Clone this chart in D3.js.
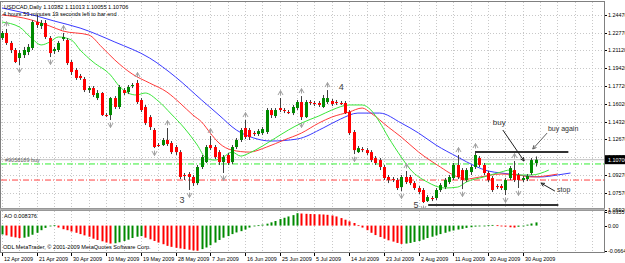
<!DOCTYPE html>
<html>
<head>
<meta charset="utf-8">
<script src="https://cdn.jsdelivr.net/npm/d3@7"></script>
<style>
  body { margin: 0; background: #ffffff; }
  svg text { font-family: "Liberation Sans", Arial, sans-serif; }
</style>
</head>
<body>
<div id="chart"></div>
<script>
// ---- data (USDCAD daily, one entry per bar) ----
const opens = [1.2228,1.2276,1.2181,1.2114,1.2038,1.2066,1.2095,1.2133,1.2380,1.2342,
  1.2371,1.2228,1.2104,1.2114,1.2219,1.2209,1.2000,1.1924,1.1867,1.1838,
  1.1733,1.1752,1.1657,1.1705,1.1495,1.1495,1.1657,1.1572,1.1733,1.1714,
  1.1771,1.1800,1.1638,1.1572,1.1476,1.1353,1.1210,1.1210,1.1258,1.1229,
  1.1191,1.1143,1.0925,1.0934,1.0906,1.0848,1.1001,1.1048,1.1210,1.1191,
  1.1143,1.1048,1.1115,1.1048,1.1191,1.1258,1.1372,1.1353,1.1324,1.1315,
  1.1324,1.1334,1.1543,1.1486,1.1562,1.1543,1.1524,1.1514,1.1562,1.1619,
  1.1476,1.1619,1.1610,1.1610,1.1572,1.1619,1.1629,1.1619,1.1610,1.1610,
  1.1524,1.1334,1.1143,1.1172,1.1162,1.1143,1.1086,1.1067,1.1001,1.0906,
  1.0886,1.0877,1.0810,1.0906,1.0906,1.0848,1.0801,1.0782,1.0677,1.0706,
  1.0706,1.0782,1.0810,1.0858,1.0896,1.1020,1.0972,1.0877,1.0953,1.1001,
  1.1086,1.1020,1.0944,1.0896,1.0820,1.0820,1.0782,1.0896,1.0972,1.0925,
  1.0877,1.0886,1.0944,1.10382];
const highs = [1.2295,1.2314,1.2200,1.2133,1.2114,1.2143,1.2171,1.2399,1.2447,1.2399,
  1.2399,1.2247,1.2143,1.2200,1.2276,1.2228,1.2019,1.1943,1.1886,1.1857,
  1.1771,1.1771,1.1733,1.1714,1.1514,1.1667,1.1676,1.1781,1.1752,1.1781,
  1.1800,1.1829,1.1657,1.1591,1.1495,1.1372,1.1229,1.1277,1.1372,1.1248,
  1.1210,1.1162,1.0944,1.0953,1.0925,1.1020,1.1115,1.1210,1.1296,1.1210,
  1.1162,1.1115,1.1134,1.1210,1.1277,1.1372,1.1448,1.1372,1.1343,1.1362,
  1.1381,1.1562,1.1562,1.1562,1.1657,1.1562,1.1543,1.1591,1.1638,1.1676,
  1.1638,1.1638,1.1629,1.1629,1.1686,1.1733,1.1648,1.1638,1.1629,1.1629,
  1.1543,1.1353,1.1201,1.1191,1.1181,1.1162,1.1105,1.1086,1.1020,1.0925,
  1.0906,1.0896,1.0925,1.0963,1.0925,1.0867,1.0820,1.0801,1.0734,1.0725,
  1.0801,1.0848,1.0896,1.0925,1.1039,1.1115,1.0991,1.0991,1.1020,1.1153,
  1.1105,1.1039,1.0963,1.0915,1.0839,1.0839,1.0896,1.1010,1.1058,1.0944,
  1.0915,1.0934,1.1086,1.11013];
const lows = [1.2209,1.2162,1.2085,1.1990,1.1971,1.2038,1.2066,1.2114,1.2323,1.2314,
  1.2219,1.2047,1.2076,1.2095,1.2200,1.1971,1.1876,1.1829,1.1829,1.1714,
  1.1705,1.1667,1.1638,1.1486,1.1476,1.1448,1.1553,1.1553,1.1686,1.1695,
  1.1752,1.1600,1.1524,1.1400,1.1353,1.1181,1.1191,1.1201,1.1201,1.1124,
  1.1115,1.0886,1.0877,1.0782,1.0820,1.0829,1.0982,1.1039,1.1162,1.1077,
  1.1020,1.0944,1.1020,1.1029,1.1172,1.1239,1.1267,1.1258,1.1296,1.1296,
  1.1305,1.1315,1.1467,1.1467,1.1524,1.1514,1.1505,1.1495,1.1543,1.1448,
  1.1467,1.1591,1.1581,1.1572,1.1562,1.1600,1.1581,1.1591,1.1591,1.1505,
  1.1305,1.1124,1.1134,1.1143,1.1115,1.1048,1.1020,1.0972,1.0877,1.0848,
  1.0858,1.0782,1.0772,1.0839,1.0829,1.0782,1.0744,1.0658,1.0668,1.0677,
  1.0687,1.0763,1.0791,1.0839,1.0877,1.0886,1.0791,1.0858,1.0925,1.0982,
  1.1001,1.0925,1.0858,1.0763,1.0791,1.0782,1.0734,1.0877,1.0858,1.0801,
  1.0858,1.0867,1.0925,1.10055];
const closes = [1.2276,1.2181,1.2114,1.2000,1.2085,1.2114,1.2143,1.2380,1.2352,1.2371,
  1.2238,1.2085,1.2123,1.2181,1.2238,1.1990,1.1905,1.1848,1.1848,1.1733,
  1.1752,1.1686,1.1705,1.1495,1.1486,1.1657,1.1572,1.1762,1.1705,1.1762,
  1.1781,1.1619,1.1543,1.1419,1.1381,1.1191,1.1201,1.1258,1.1220,1.1143,
  1.1143,1.0906,1.0915,1.0906,1.0848,1.1001,1.1096,1.1191,1.1181,1.1096,
  1.1048,1.1096,1.1039,1.1191,1.1258,1.1353,1.1286,1.1286,1.1315,1.1343,
  1.1362,1.1543,1.1495,1.1543,1.1543,1.1534,1.1514,1.1572,1.1619,1.1476,
  1.1619,1.1610,1.1600,1.1591,1.1657,1.1657,1.1600,1.1610,1.1600,1.1514,
  1.1324,1.1162,1.1181,1.1162,1.1134,1.1067,1.1039,1.1001,1.0896,1.0877,
  1.0877,1.0801,1.0906,1.0858,1.0848,1.0801,1.0763,1.0668,1.0715,1.0696,
  1.0782,1.0829,1.0877,1.0906,1.1020,1.0906,1.0877,1.0972,1.1001,1.1115,
  1.1020,1.0944,1.0877,1.0782,1.0810,1.0801,1.0877,1.0991,1.0877,1.0877,
  1.0896,1.0915,1.1067,1.10706];

// Awesome Oscillator, one value per bar
const aoValues = [-0.0231,-0.0256,-0.0291,-0.0308,-0.0325,-0.0316,-0.0291,-0.0239,-0.0188,-0.0120,
  -0.0060,-0.0017,0.0009,-0.0051,-0.0094,-0.0120,-0.0154,-0.0188,-0.0222,-0.0256,
  -0.0291,-0.0342,-0.0376,-0.0410,-0.0444,-0.0470,-0.0462,-0.0436,-0.0402,-0.0368,
  -0.0325,-0.0291,-0.0274,-0.0316,-0.0359,-0.0402,-0.0444,-0.0487,-0.0530,-0.0556,
  -0.0581,-0.0598,-0.0615,-0.0632,-0.0650,-0.0658,-0.0615,-0.0573,-0.0513,-0.0444,
  -0.0376,-0.0316,-0.0274,-0.0222,-0.0179,-0.0145,-0.0103,-0.0051,-0.0017,0.0009,
  0.0026,0.0051,0.0085,0.0120,0.0171,0.0205,0.0239,0.0274,0.0325,0.0316,
  0.0308,0.0303,0.0299,0.0295,0.0291,0.0282,0.0265,0.0239,0.0197,0.0154,
  0.0111,0.0068,0.0009,-0.0051,-0.0120,-0.0188,-0.0248,-0.0299,-0.0342,-0.0385,
  -0.0419,-0.0453,-0.0479,-0.0470,-0.0453,-0.0427,-0.0402,-0.0368,-0.0325,-0.0291,
  -0.0256,-0.0222,-0.0188,-0.0154,-0.0128,-0.0103,-0.0085,-0.0060,-0.0043,-0.0026,
  -0.0017,-0.0009,0.0009,0.0017,0.0009,-0.0009,-0.0026,-0.0043,-0.0051,-0.0030,
  -0.0005,0.0025,0.0055,0.008376];

// Alligator lines, sampled at bar positions (they run past the last bar)
const jawBars = [0,8,12,18,26,34,40,46,50,54,58,62,68,74,78,82,87,92,96,100,105,109,112,115,119,124,128,131];
const jawValues = [1.2514,1.2437,1.2390,1.2323,1.2190,1.2038,1.1857,1.1638,1.1495,1.1353,1.1277,1.1248,1.1267,1.1372,
  1.1457,1.1514,1.1514,1.1419,1.1324,1.1210,1.1096,1.1010,1.0963,1.0944,1.0925,1.0906,1.0925,1.0944];
const teethBars = [0,5,11,14,20,23,26,30,34,38,41,44,46,48,50,53,57,61,65,69,73,76,80,83,85,89,92,96,101,104,107,110,115,119,122,128];
const teethValues = [1.2447,1.2418,1.2342,1.2295,1.2257,1.2142,1.2019,1.1886,1.1800,1.1714,1.1610,1.1495,1.1429,1.1324,
  1.1229,1.1162,1.1143,1.1191,1.1258,1.1324,1.1419,1.1476,1.1524,1.1562,1.1514,1.1381,1.1286,1.1143,1.1001,1.0925,
  1.0886,1.0905,1.0934,1.0925,1.0906,1.0934];
const lipsBars = [0,4,7,9,11,13,16,18,21,25,27,29,31,33,36,39,42,45,47,49,51,53,55,57,60,63,66,69,73,76,80,83,85,87,89,
  92,94,98,102,105,107,111,115,117,119,122,126];
const lipsValues = [1.2380,1.2333,1.2219,1.2162,1.2190,1.2238,1.2209,1.2114,1.2000,1.1876,1.1771,1.1705,1.1686,1.1705,
  1.1629,1.1505,1.1372,1.1210,1.1086,1.1067,1.1096,1.1143,1.1105,1.1134,1.1200,1.1277,1.1353,1.1419,1.1486,1.1543,
  1.1591,1.1591,1.1543,1.1429,1.1286,1.1096,1.0982,1.0858,1.0801,1.0810,1.0858,1.0906,1.0953,1.0972,1.0925,1.0925,1.0972];

// Fractals (bar indices)
const upFractals = [1,14,31,38,48,56,64,69,75,93,105,109,118];
const downFractals = [4,11,25,35,43,51,69,81,92,97,106,116,119];

// Axis ticks
const priceTicks = [1.24470,1.22770,1.21120,1.19420,1.17720,1.16020,1.14320,1.12670,1.10970,1.09270,1.07570,1.05920];
const aoTicks = [0.035573, 0.0, -0.066446];
const aoTickLabels = ["0.035573", "0.00", "-0.066446"];
const dateTickBars = [0,8,16,24,32,40,48,56,64,72,80,88,96,104,112,120];
const dateTickLabels = ["12 Apr 2009","21 Apr 2009","30 Apr 2009","10 May 2009","19 May 2009","28 May 2009",
  "7 Jun 2009","16 Jun 2009","25 Jun 2009","5 Jul 2009","14 Jul 2009","23 Jul 2009","2 Aug 2009",
  "11 Aug 2009","20 Aug 2009","30 Aug 2009"];

// Trade lines and hand-drawn annotations
const orderPrice = 1.1030;
const stopPrice = 1.0877;
const trendStart = [109, 98.2];
const trendEnd = [130.5, 128.2];
const trendPrice = [1.1143, 1.0639];
const waveLabels = ["3", "4", "5"];
const waveBars = [41.5, 78.2, 95.4];
const wavePrices = [1.0658, 1.1733, 1.0610];

// ---- layout ----
const width = 625, height = 263;
const mainTop = 2, mainBottom = 208, aoTop = 211, aoBottom = 252, plotRight = 604;

const svg = d3.select("#chart")
  .append("svg")
  .attr("width", width)
  .attr("height", height)
  .style("display", "block");

svg.append("rect").attr("width", width).attr("height", height).attr("fill", "#ffffff");

// scales
const x = d3.scaleLinear().domain([0, 123]).range([2, 535.8]);
const y = d3.scaleLinear().domain([1.0592, 1.2447]).range([210, 15]);
const yAo = d3.scaleLinear().domain([-0.066446, 0.035573]).range([aoBottom - 1, aoTop + 1]);

const gridBars = d3.range(0, 140, 4);

// clip regions
const defs = svg.append("defs");
defs.append("clipPath").attr("id", "clipMain")
  .append("rect").attr("x", 1).attr("y", mainTop).attr("width", plotRight - 1).attr("height", mainBottom - mainTop);
defs.append("clipPath").attr("id", "clipAo")
  .append("rect").attr("x", 1).attr("y", aoTop).attr("width", plotRight - 1).attr("height", aoBottom - aoTop);

/*****************/
/* Main panel    */
/*****************/
const main = svg.append("g").attr("clip-path", "url(#clipMain)");

// grid
main.selectAll(".vgrid").data(gridBars).join("line")
  .attr("x1", d => Math.round(x(d)) + 0.5).attr("x2", d => Math.round(x(d)) + 0.5)
  .attr("y1", mainTop).attr("y2", mainBottom)
  .attr("stroke", "#c8c8c8").attr("stroke-width", 1).attr("stroke-dasharray", "1,2");
main.selectAll(".hgrid").data(priceTicks).join("line")
  .attr("x1", 1).attr("x2", plotRight)
  .attr("y1", d => Math.round(y(d)) + 0.5).attr("y2", d => Math.round(y(d)) + 0.5)
  .attr("stroke", "#c8c8c8").attr("stroke-width", 1).attr("stroke-dasharray", "1,2");

// order / stop / bid lines
main.append("line")
  .attr("x1", 1).attr("x2", plotRight)
  .attr("y1", y(closes[closes.length - 1])).attr("y2", y(closes[closes.length - 1]))
  .attr("stroke", "#c0c0c0").attr("stroke-width", 1);
main.append("line")
  .attr("x1", 1).attr("x2", plotRight)
  .attr("y1", y(orderPrice)).attr("y2", y(orderPrice))
  .attr("stroke", "#33ee33").attr("stroke-width", 1).attr("stroke-dasharray", "6,2,1,2");
main.append("line")
  .attr("x1", 1).attr("x2", plotRight)
  .attr("y1", y(stopPrice)).attr("y2", y(stopPrice))
  .attr("stroke", "#ff4040").attr("stroke-width", 1).attr("stroke-dasharray", "6,2,1,2");
main.append("text")
  .attr("x", 5).attr("y", y(orderPrice) - 2)
  .attr("font-size", 5.5).attr("fill", "#606060")
  .text("#9058189 buy");

// alligator
const lineGen = (bars, vals) => d3.line().curve(d3.curveMonotoneX)(bars.map((b, i) => [x(b), y(vals[i])]));
main.append("path").attr("d", lineGen(jawBars, jawValues)).attr("fill", "none").attr("stroke", "#3a3aff").attr("stroke-width", 1);
main.append("path").attr("d", lineGen(teethBars, teethValues)).attr("fill", "none").attr("stroke", "#ff3a3a").attr("stroke-width", 1);
main.append("path").attr("d", lineGen(lipsBars, lipsValues)).attr("fill", "none").attr("stroke", "#3ae63a").attr("stroke-width", 1);

// candles
const bars = d3.range(opens.length);
main.selectAll(".wick").data(bars).join("line")
  .attr("x1", i => Math.round(x(i)) + 0.5).attr("x2", i => Math.round(x(i)) + 0.5)
  .attr("y1", i => y(highs[i])).attr("y2", i => y(lows[i]))
  .attr("stroke", "#404040").attr("stroke-width", 1);
main.selectAll(".body").data(bars).join("rect")
  .attr("x", i => Math.round(x(i)) - 1)
  .attr("y", i => y(Math.max(opens[i], closes[i])))
  .attr("width", 3)
  .attr("height", i => Math.max(1, Math.abs(y(opens[i]) - y(closes[i]))))
  .attr("fill", i => closes[i] >= opens[i] ? "#008a00" : "#ff0000");

// fractals
main.selectAll(".fup").data(upFractals).join("path")
  .attr("transform", i => `translate(${Math.round(x(i)) + 0.5},${y(highs[i]) - 5})`)
  .attr("d", "M-2.5,2 L0,-2.5 L2.5,2 M0,-2.5 L0,2.5")
  .attr("fill", "none").attr("stroke", "#a0a0a0").attr("stroke-width", 1);
main.selectAll(".fdn").data(downFractals).join("path")
  .attr("transform", i => `translate(${Math.round(x(i)) + 0.5},${y(lows[i]) + 5})`)
  .attr("d", "M-2.5,-2 L0,2.5 L2.5,-2 M0,2.5 L0,-2.5")
  .attr("fill", "none").attr("stroke", "#a0a0a0").attr("stroke-width", 1);

// hand-drawn trend lines
main.selectAll(".trend").data(trendPrice).join("line")
  .attr("x1", (p, i) => x(trendStart[i])).attr("x2", (p, i) => x(trendEnd[i]))
  .attr("y1", p => y(p)).attr("y2", p => y(p))
  .attr("stroke", "#333333").attr("stroke-width", 2);

// wave numbers
main.selectAll(".wave").data(waveLabels).join("text")
  .attr("x", (d, i) => x(waveBars[i])).attr("y", (d, i) => y(wavePrices[i]))
  .attr("text-anchor", "middle").attr("font-size", 9).attr("fill", "#404040")
  .text(d => d);

// buy / buy again / stop notes
const arrowLine = (x1, y1, x2, y2, color) => {
  main.append("line").attr("x1", x1).attr("y1", y1).attr("x2", x2).attr("y2", y2)
    .attr("stroke", color).attr("stroke-width", 1);
  const a = Math.atan2(y2 - y1, x2 - x1);
  const s = 4;
  main.append("path")
    .attr("d", `M${x2 - s * Math.cos(a - 0.45)},${y2 - s * Math.sin(a - 0.45)} L${x2},${y2} L${x2 - s * Math.cos(a + 0.45)},${y2 - s * Math.sin(a + 0.45)}`)
    .attr("fill", "none").attr("stroke", color).attr("stroke-width", 1);
};
arrowLine(x(115.4), y(1.1353), x(120.3), y(1.1058), "#202020");
arrowLine(x(125.6), y(1.1324), x(122.3), y(1.1172), "#606060");
arrowLine(x(127.4), y(1.0772), x(124.2), y(1.0848), "#202020");
main.append("text").attr("x", x(113.1)).attr("y", y(1.1400)).attr("font-size", 8).attr("fill", "#303030").text("buy");
main.append("text").attr("x", x(125.8)).attr("y", y(1.1343)).attr("font-size", 7).attr("fill", "#303030").text("buy again");
main.append("text").attr("x", x(127.9)).attr("y", y(1.0763)).attr("font-size", 7).attr("fill", "#303030").text("stop");

// header
svg.append("text").attr("x", 4).attr("y", 9).attr("font-size", 5.6).attr("fill", "#000")
  .text("USDCAD,Daily  1.10382 1.11013 1.10055 1.10706");
svg.append("text").attr("x", 3).attr("y", 16).attr("font-size", 5.6).attr("fill", "#000")
  .text("4 hours 53 minutes 19 seconds left to bar end");

/*****************/
/* AO panel      */
/*****************/
const ao = svg.append("g").attr("clip-path", "url(#clipAo)");
ao.selectAll(".vgrid").data(gridBars).join("line")
  .attr("x1", d => Math.round(x(d)) + 0.5).attr("x2", d => Math.round(x(d)) + 0.5)
  .attr("y1", aoTop).attr("y2", aoBottom)
  .attr("stroke", "#c8c8c8").attr("stroke-width", 1).attr("stroke-dasharray", "1,2");
ao.selectAll(".aobar").data(bars).join("rect")
  .attr("x", i => Math.round(x(i)) - 0.5)
  .attr("y", i => Math.min(yAo(0), yAo(aoValues[i])))
  .attr("width", 2)
  .attr("height", i => Math.max(0.8, Math.abs(yAo(aoValues[i]) - yAo(0))))
  .attr("fill", i => (i === 0 || aoValues[i] > aoValues[i - 1]) ? "#008a00" : "#ff0000");
svg.append("text").attr("x", 4).attr("y", 218).attr("font-size", 5.6).attr("fill", "#000")
  .text("AO 0.008376");
svg.append("text").attr("x", 3).attr("y", 249).attr("font-size", 5.6).attr("fill", "#000")
  .text("ODL MetaTrader, \u00a9 2001-2009 MetaQuotes Software Corp.");

/*****************/
/* Frames & axes */
/*****************/
svg.append("rect").attr("x", 0.5).attr("y", 1.5).attr("width", plotRight).attr("height", mainBottom - 1)
  .attr("fill", "none").attr("stroke", "#808080").attr("stroke-width", 1);
svg.append("rect").attr("x", 0.5).attr("y", aoTop - 0.5).attr("width", plotRight).attr("height", aoBottom - aoTop + 1)
  .attr("fill", "none").attr("stroke", "#808080").attr("stroke-width", 1);
svg.append("line").attr("x1", 0).attr("x2", plotRight + 1).attr("y1", 209.5).attr("y2", 209.5)
  .attr("stroke", "#b0b0b0").attr("stroke-width", 2);

// price axis
const priceAxis = svg.append("g");
priceAxis.selectAll("line").data(priceTicks).join("line")
  .attr("x1", plotRight + 1).attr("x2", plotRight + 3)
  .attr("y1", d => Math.round(y(d)) + 0.5).attr("y2", d => Math.round(y(d)) + 0.5)
  .attr("stroke", "#000");
priceAxis.selectAll("text").data(priceTicks).join("text")
  .attr("x", plotRight + 4).attr("y", d => y(d) + 2)
  .attr("font-size", 5.4).attr("fill", "#000")
  .text(d => d.toFixed(5));

// current price marker
const last = closes[closes.length - 1];
svg.append("rect").attr("x", plotRight + 1).attr("y", y(last) - 4.5).attr("width", 21).attr("height", 9).attr("fill", "#000");
svg.append("text").attr("x", plotRight + 4).attr("y", y(last) + 2).attr("font-size", 5.4).attr("fill", "#fff")
  .text(last.toFixed(5));

// AO axis
const aoAxis = svg.append("g");
aoAxis.selectAll("line").data(aoTicks).join("line")
  .attr("x1", plotRight + 1).attr("x2", plotRight + 3)
  .attr("y1", d => Math.round(yAo(d)) + 0.5).attr("y2", d => Math.round(yAo(d)) + 0.5)
  .attr("stroke", "#000");
aoAxis.selectAll("text").data(aoTicks).join("text")
  .attr("x", plotRight + 4).attr("y", d => yAo(d) + 2)
  .attr("font-size", 5.4).attr("fill", "#000")
  .text((d, i) => aoTickLabels[i]);

// date axis
const dateAxis = svg.append("g");
dateAxis.selectAll("line").data(dateTickBars).join("line")
  .attr("x1", d => Math.round(x(d)) + 0.5).attr("x2", d => Math.round(x(d)) + 0.5)
  .attr("y1", aoBottom + 1).attr("y2", aoBottom + 4)
  .attr("stroke", "#000");
dateAxis.selectAll("text").data(dateTickBars).join("text")
  .attr("x", d => Math.round(x(d)) + 2).attr("y", 260.5)
  .attr("font-size", 5.4).attr("fill", "#000")
  .text((d, i) => dateTickLabels[i]);
</script>
</body>
</html>
